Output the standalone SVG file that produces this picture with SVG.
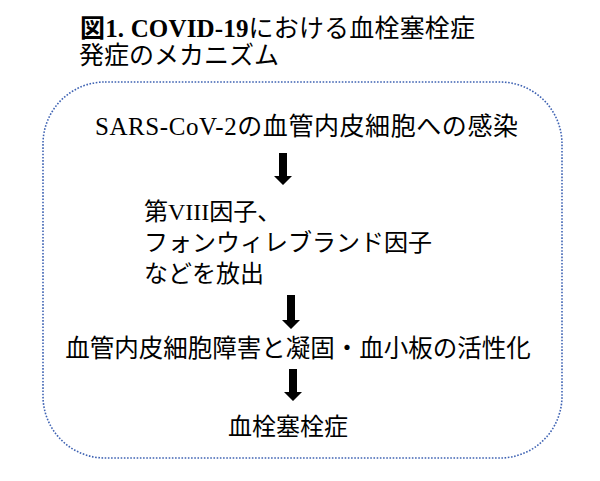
<svg xmlns="http://www.w3.org/2000/svg" width="600" height="481" viewBox="0 0 600 481">
<style>
.t{font-family:"Liberation Serif","Noto Sans CJK JP",serif;fill:#000;font-size:24px}
.title{font-family:"Liberation Serif","Noto Sans CJK JP",serif;font-size:25px;fill:#000}
.b{font-weight:bold}
.arrow{fill:#000}
</style>
<rect width="600" height="481" fill="#fff"/>
<g id="title">
<text class="title" x="80" y="37" textLength="395" lengthAdjust="spacing"><tspan class="b">図1. COVID-19</tspan>における血栓塞栓症</text>
<text class="title" x="79" y="64">発症のメカニズム</text>
</g>
<g id="frame">
<rect x="43" y="82" width="519" height="376" rx="62" ry="62" fill="none" stroke="#3f63b3" stroke-width="1.6" stroke-dasharray="1.6 1.6"/>
</g>
<g id="node1">
<text class="t" x="95" y="135" style="font-size:25px" textLength="423" lengthAdjust="spacing">SARS-CoV-2の血管内皮細胞への感染</text>
</g>
<g id="node2">
<text class="t" x="144" y="220">第VIII因子、</text>
<text class="t" x="144" y="251">フォンウィレブランド因子</text>
<text class="t" x="144" y="282">などを放出</text>
</g>
<g id="node3">
<text class="t" x="298" y="357" text-anchor="middle" style="font-size:24.5px">血管内皮細胞障害と凝固・血小板の活性化</text>
</g>
<g id="node4">
<text class="t" x="288" y="435" text-anchor="middle">血栓塞栓症</text>
</g>
<g id="connectors">
<polygon class="arrow" points="279,153 287,153 287,176 292,176 283,185 274,176 279,176"/>
<polygon class="arrow" points="287,295 295,295 295,320 300,320 291,329 282,320 287,320"/>
<polygon class="arrow" points="289,369 297,369 297,392 302,392 293,401 284,392 289,392"/>
</g>
</svg>
